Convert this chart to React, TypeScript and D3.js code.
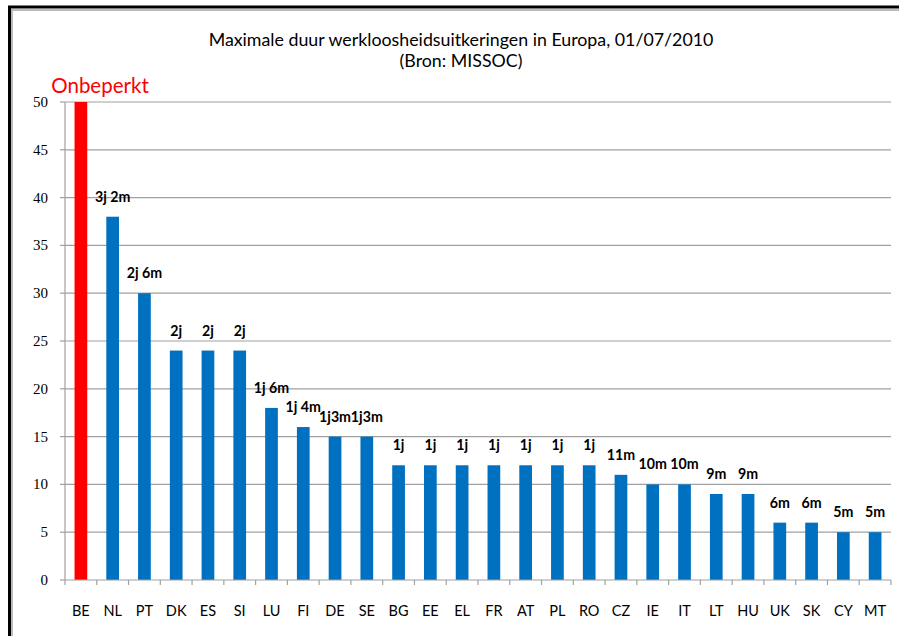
import React from "react";
import * as d3 from "d3";

const categories = ["BE","NL","PT","DK","ES","SI","LU","FI","DE","SE","BG","EE","EL","FR","AT","PL","RO","CZ","IE","IT","LT","HU","UK","SK","CY","MT"];
const months = [50,38,30,24,24,24,18,16,15,15,12,12,12,12,12,12,12,11,10,10,9,9,6,6,5,5];
const barLabels = ["","3j 2m","2j 6m","2j","2j","2j","1j 6m","1j 4m","1j3m","1j3m","1j","1j","1j","1j","1j","1j","1j","11m","10m","10m","9m","9m","6m","6m","5m","5m"];
const highlight = ["BE"];
const yTicks = [0,5,10,15,20,25,30,35,40,45,50];
const titleLines = ["Maximale duur werkloosheidsuitkeringen in Europa, 01/07/2010", "(Bron: MISSOC)"];
const unlimitedLabel = "Onbeperkt";

const W = 899, H = 636;
const left = 65, right = 891, top = 102, bottom = 580;
const sans = "Lato, 'Open Sans', sans-serif";

export default function App() {
  const x = d3.scaleBand<string>().domain(categories).range([left, right]).paddingInner(0.6).paddingOuter(0.3);
  const xb = d3.scaleBand<string>().domain(categories).range([left, right]);
  const y = d3.scaleLinear().domain([0, 50]).range([bottom, top]);
  return (
    <svg width={W} height={H} style={{ position: "absolute", left: 0, top: 0, background: "#fff" }}>
      <rect x={0} y={0} width={W} height={H} fill="#fff" />
      {/* frame */}
      <line x1={9} y1={10} x2={W + 5} y2={10} stroke="#bbb" strokeWidth={2} />
      <line x1={12} y1={9} x2={12} y2={H + 5} stroke="#bbb" strokeWidth={2} />
      <line x1={8} y1={7} x2={W + 5} y2={7} stroke="#000" strokeWidth={3} />
      <line x1={9.5} y1={6} x2={9.5} y2={H + 5} stroke="#000" strokeWidth={3} />
      {/* title */}
      <text x={461} y={46} textAnchor="middle" fontFamily={sans} fontSize={17.8} fill="#000">{titleLines[0]}</text>
      <text x={461} y={67} textAnchor="middle" fontFamily={sans} fontSize={17.8} fill="#000">{titleLines[1]}</text>
      {/* grid */}
      {yTicks.map(t => (
        <g key={t}>
          {t > 0 && <line x1={left} x2={right} y1={y(t)} y2={y(t)} stroke="#a0a0a0" strokeWidth={1.2} />}
          <line x1={left - 5} x2={left} y1={y(t)} y2={y(t)} stroke="#a0a0a0" strokeWidth={1.2} />
          <text x={48} y={y(t) + 5} textAnchor="end" fontFamily="'Liberation Serif', serif" fontSize={15} fill="#000">{t}</text>
        </g>
      ))}
      <line x1={left} x2={left} y1={top} y2={bottom} stroke="#a0a0a0" strokeWidth={1.2} />
      {/* bars */}
      {categories.map((c, i) => (
        <rect key={c} x={x(c)} y={y(months[i])} width={x.bandwidth()} height={bottom - y(months[i])}
          fill={highlight.includes(c) ? "#ff0000" : "#0070c0"} />
      ))}
      <line x1={left} x2={right} y1={bottom} y2={bottom} stroke="#a0a0a0" strokeWidth={1.2} />
      {categories.map(c => (
        <line key={"t" + c} x1={xb(c)} x2={xb(c)} y1={bottom} y2={bottom + 5} stroke="#a0a0a0" strokeWidth={1.2} />
      ))}
      <line x1={right} x2={right} y1={bottom} y2={bottom + 5} stroke="#a0a0a0" strokeWidth={1.2} />
      {categories.map((c, i) => (
        <text key={"x" + c} x={xb(c)! + xb.bandwidth() / 2} y={616} textAnchor="middle" fontFamily={sans} fontSize={14.5} fill="#000">{c}</text>
      ))}
      {categories.map((c, i) => barLabels[i] ? (
        <text key={"l" + c} x={xb(c)! + xb.bandwidth() / 2} y={y(months[i]) - 15} textAnchor="middle" fontFamily={sans} fontWeight="bold" fontSize={14.2} fill="#000">{barLabels[i]}</text>
      ) : null)}
      <text x={100} y={93} textAnchor="middle" fontFamily={sans} fontSize={20.5} fill="#ff0000">{unlimitedLabel}</text>
    </svg>
  );
}
